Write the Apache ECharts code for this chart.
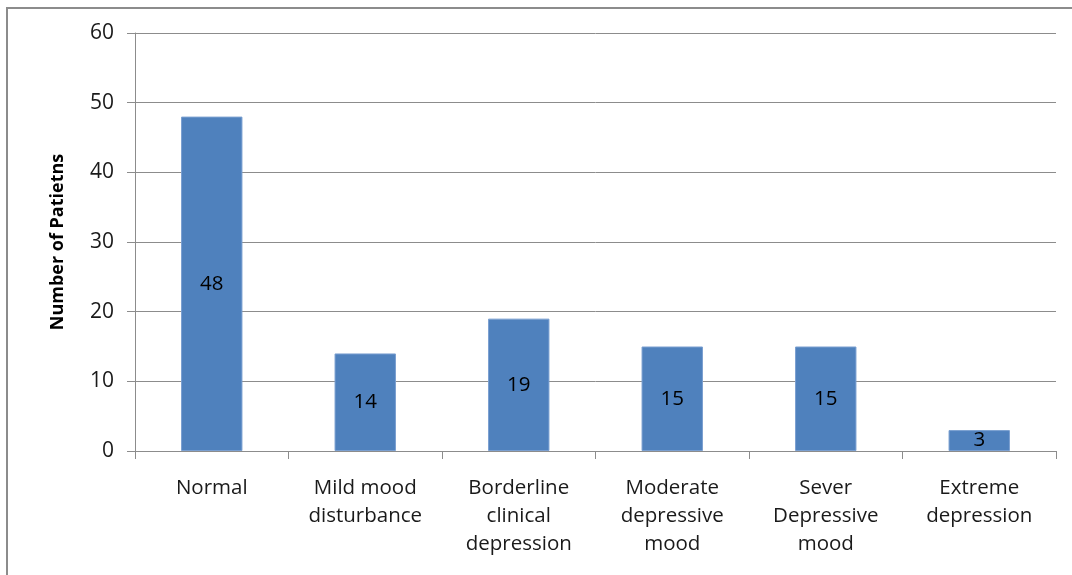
<!DOCTYPE html>
<html>
<head>
<meta charset="utf-8">
<title>Number of Patients</title>
<script src="https://cdn.jsdelivr.net/npm/echarts@6/dist/echarts.min.js"></script>
<style>
    html, body { margin: 0; padding: 0; background: #fff; }
    #frame {
        position: absolute; left: 6px; top: 7px; width: 1072px; height: 580px;
        border-top: 2px solid #8c8c8c; border-left: 2px solid #8c8c8c;
    }
    #chart { position: absolute; left: 0; top: 0; width: 1072px; height: 575px; }
</style>
</head>
<body>
<div id="frame"></div>
<div id="chart"></div>
<script>
// 分类和数值
const categories = [
    "Normal",
    "Mild mood\ndisturbance",
    "Borderline\nclinical\ndepression",
    "Moderate\ndepressive\nmood",
    "Sever\nDepressive\nmood",
    "Extreme\ndepression"
];
const patients = [48, 14, 19, 15, 15, 3];
const yTicks = [0, 10, 20, 30, 40, 50, 60];

const chart = echarts.init(document.getElementById("chart"));
const option = {
    animation: false,
    textStyle: { fontFamily: "Open Sans" },
    grid: { left: 135, right: 16, top: 33, bottom: 124 },
    xAxis: {
        type: "category",
        data: categories,
        axisLine: { lineStyle: { color: "#8c8c8c", width: 1 } },
        axisTick: { show: true, length: 8, lineStyle: { color: "#8c8c8c" } },
        axisLabel: { color: "#1a1a1a", fontSize: 20.5, lineHeight: 28, margin: 23 }
    },
    yAxis: {
        type: "value",
        min: yTicks[0],
        max: yTicks[yTicks.length - 1],
        interval: 10,
        name: "Number of Patietns",
        nameLocation: "middle",
        nameGap: 68,
        nameTextStyle: { color: "#000", fontSize: 18, fontWeight: "bold" },
        axisLine: { show: true, lineStyle: { color: "#8c8c8c" } },
        axisTick: { show: true, length: 8, lineStyle: { color: "#8c8c8c" } },
        axisLabel: { color: "#1a1a1a", fontSize: 21, margin: 21 },
        splitLine: { lineStyle: { color: "#8c8c8c", width: 1 } }
    },
    series: [{
        type: "bar",
        data: patients,
        barWidth: "40%",
        itemStyle: { color: "#4f81bd", borderColor: "#7a9fd0", borderWidth: 1 },
        label: { show: true, position: "inside", color: "#000", fontSize: 20.5 }
    }]
};
chart.setOption(option);
</script>
</body>
</html>
